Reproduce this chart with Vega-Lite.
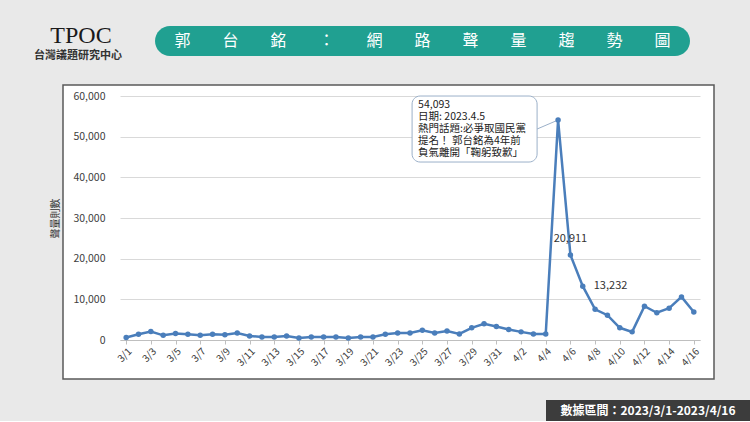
{
  "$schema": "https://vega.github.io/schema/vega-lite/v6.json",
  "background": "#e9e9e9",
  "padding": {"left": 34, "top": 24, "right": 0, "bottom": 0},
  "bounds": "flush",
  "spacing": 0,
  "config": {"font": "Noto Sans CJK TC", "view": {"stroke": null}},
  "datasets": {
    "trend": [
      {"date": "3/1", "count": 600},
      {"date": "3/2", "count": 1400},
      {"date": "3/3", "count": 2100},
      {"date": "3/4", "count": 1150},
      {"date": "3/5", "count": 1600},
      {"date": "3/6", "count": 1400},
      {"date": "3/7", "count": 1150},
      {"date": "3/8", "count": 1400},
      {"date": "3/9", "count": 1300},
      {"date": "3/10", "count": 1700},
      {"date": "3/11", "count": 1000},
      {"date": "3/12", "count": 750},
      {"date": "3/13", "count": 750},
      {"date": "3/14", "count": 1000},
      {"date": "3/15", "count": 500},
      {"date": "3/16", "count": 750},
      {"date": "3/17", "count": 750},
      {"date": "3/18", "count": 750},
      {"date": "3/19", "count": 500},
      {"date": "3/20", "count": 750},
      {"date": "3/21", "count": 750},
      {"date": "3/22", "count": 1400},
      {"date": "3/23", "count": 1700},
      {"date": "3/24", "count": 1700},
      {"date": "3/25", "count": 2400},
      {"date": "3/26", "count": 1700},
      {"date": "3/27", "count": 2200},
      {"date": "3/28", "count": 1500},
      {"date": "3/29", "count": 3000},
      {"date": "3/30", "count": 4000},
      {"date": "3/31", "count": 3300},
      {"date": "4/1", "count": 2600},
      {"date": "4/2", "count": 2000},
      {"date": "4/3", "count": 1500},
      {"date": "4/4", "count": 1500},
      {"date": "4/5", "count": 54093, "note": "54,093\n日期: 2023.4.5\n熱門話題:必爭取國民黨\n提名！ 郭台銘為4年前\n負氣離開「鞠躬致歉」"},
      {"date": "4/6", "count": 20911},
      {"date": "4/7", "count": 13232},
      {"date": "4/8", "count": 7550},
      {"date": "4/9", "count": 6100},
      {"date": "4/10", "count": 3000},
      {"date": "4/11", "count": 2000},
      {"date": "4/12", "count": 8300},
      {"date": "4/13", "count": 6700},
      {"date": "4/14", "count": 7800},
      {"date": "4/15", "count": 10600},
      {"date": "4/16", "count": 6900}
    ],
    "logo": [
      {"part": "TPOC", "text": "TPOC"},
      {"part": "sub", "text": "台灣議題研究中心"}
    ],
    "banner": [
      {"text": "郭　　台　　銘　　：　　網　　路　　聲　　量　　趨　　勢　　圖"}
    ],
    "footer": [
      {"text": "數據區間：2023/3/1-2023/4/16"}
    ],
    "blank": [{}]
  },
  "vconcat": [
    {
      "bounds": "flush",
      "spacing": 12,
      "hconcat": [
        {
          "data": {"name": "logo"},
          "width": 80,
          "height": 40,
          "view": {"fill": null, "stroke": null},
          "encoding": {
            "y": {"field": "part", "type": "nominal", "sort": null, "axis": null, "scale": {"domain": ["TPOC", "sub"], "padding": 0.5}},
            "text": {"field": "text"}
          },
          "layer": [
            {
              "transform": [{"filter": "datum.part == 'TPOC'"}],
              "mark": {"type": "text", "font": "Liberation Serif", "fontSize": 24, "align": "center", "dx": -22, "color": "#1a1a1a"}
            },
            {
              "transform": [{"filter": "datum.part == 'sub'"}],
              "mark": {"type": "text", "fontSize": 11, "fontWeight": "bold", "align": "center", "dx": -25, "color": "#333333"}
            }
          ]
        },
        {
          "data": {"name": "banner"},
          "width": 535,
          "height": 30,
          "view": {"fill": "#20a091", "stroke": null, "cornerRadius": 15},
          "mark": {"type": "text", "color": "white", "fontSize": 16, "align": "center", "baseline": "middle"},
          "encoding": {"text": {"field": "text"}}
        }
      ]
    },
    {
      "data": {"name": "blank"},
      "width": 1,
      "height": 59,
      "view": {"fill": null, "stroke": null},
      "mark": {"type": "text", "text": ""}
    },
    {
      "data": {"name": "trend"},
      "width": 651,
      "height": 294,
      "view": {"fill": "white", "stroke": "#595959", "strokeWidth": 1.5},
      "encoding": {
        "x": {
          "field": "date",
          "type": "ordinal",
          "sort": null,
          "scale": {
            "domain": ["3/1","3/2","3/3","3/4","3/5","3/6","3/7","3/8","3/9","3/10","3/11","3/12","3/13","3/14","3/15","3/16","3/17","3/18","3/19","3/20","3/21","3/22","3/23","3/24","3/25","3/26","3/27","3/28","3/29","3/30","3/31","4/1","4/2","4/3","4/4","4/5","4/6","4/7","4/8","4/9","4/10","4/11","4/12","4/13","4/14","4/15","4/16"],
            "range": [57, 637]
          },
          "axis": {
            "title": null,
            "offset": -39,
            "values": ["3/1","3/3","3/5","3/7","3/9","3/11","3/13","3/15","3/17","3/19","3/21","3/23","3/25","3/27","3/29","3/31","4/2","4/4","4/6","4/8","4/10","4/12","4/14","4/16"],
            "labelAngle": -45,
            "labelFontSize": 10,
            "labelColor": "#404040",
            "domainColor": "#bfbfbf",
            "tickColor": "#bfbfbf",
            "tickSize": 4,
            "grid": false
          }
        },
        "y": {
          "field": "count",
          "type": "quantitative",
          "scale": {"domain": [0, 60000], "nice": false, "range": [255, 11]},
          "axis": {
            "title": "聲量則數",
            "offset": -57,
            "titleFontSize": 10,
            "titleFontWeight": "normal",
            "titleColor": "#333333",
            "titlePadding": 12,
            "values": [0, 10000, 20000, 30000, 40000, 50000, 60000],
            "format": ",.0f",
            "labelFontSize": 10.5,
            "labelColor": "#404040",
            "labelPadding": 15,
            "labelOverlap": false,
            "domain": false,
            "ticks": false,
            "gridColor": "#d9d9d9"
          }
        }
      },
      "layer": [
        {
          "transform": [{"filter": "isValid(datum.note)"}],
          "mark": {
            "type": "point",
            "shape": "M-138,-24H-29A8,8 0 0 1 -21,-16V34A8,8 0 0 1 -29,42H-138A8,8 0 0 1 -146,34V-16A8,8 0 0 1 -138,-24Z M-21,9L0,0",
            "size": 4,
            "filled": true,
            "fill": "white",
            "stroke": "#9bb0c9",
            "strokeWidth": 1,
            "opacity": 1
          }
        },
        {
          "mark": {
            "type": "line",
            "color": "#4a7ebb",
            "strokeWidth": 2.5,
            "point": {"filled": true, "size": 30, "color": "#4a7ebb"}
          }
        },
        {
          "transform": [{"filter": "isValid(datum.note)"}],
          "mark": {
            "type": "text",
            "align": "left",
            "baseline": "top",
            "dx": -140,
            "dy": -20,
            "fontSize": 10.5,
            "lineHeight": 12,
            "lineBreak": "\n",
            "color": "#222222"
          },
          "encoding": {"text": {"field": "note"}}
        },
        {
          "transform": [{"filter": "datum.date == '4/6'"}],
          "mark": {"type": "text", "dy": -16, "fontSize": 11, "color": "#333333"},
          "encoding": {"text": {"field": "count", "type": "quantitative", "format": ","}}
        },
        {
          "transform": [{"filter": "datum.date == '4/7'"}],
          "mark": {"type": "text", "align": "left", "dx": 11, "fontSize": 11, "color": "#333333"},
          "encoding": {"text": {"field": "count", "type": "quantitative", "format": ","}}
        }
      ]
    },
    {
      "data": {"name": "blank"},
      "width": 1,
      "height": 21,
      "view": {"fill": null, "stroke": null},
      "mark": {"type": "text", "text": ""}
    },
    {
      "bounds": "flush",
      "spacing": 15,
      "hconcat": [
        {
          "data": {"name": "blank"},
          "width": 468,
          "height": 21,
          "view": {"fill": null, "stroke": null},
          "mark": {"type": "text", "text": ""}
        },
        {
          "data": {"name": "footer"},
          "width": 204,
          "height": 21,
          "view": {"fill": "#3c3c3c", "stroke": null},
          "mark": {"type": "text", "color": "white", "fontSize": 12, "fontWeight": "bold"},
          "encoding": {"text": {"field": "text"}}
        }
      ]
    }
  ]
}
